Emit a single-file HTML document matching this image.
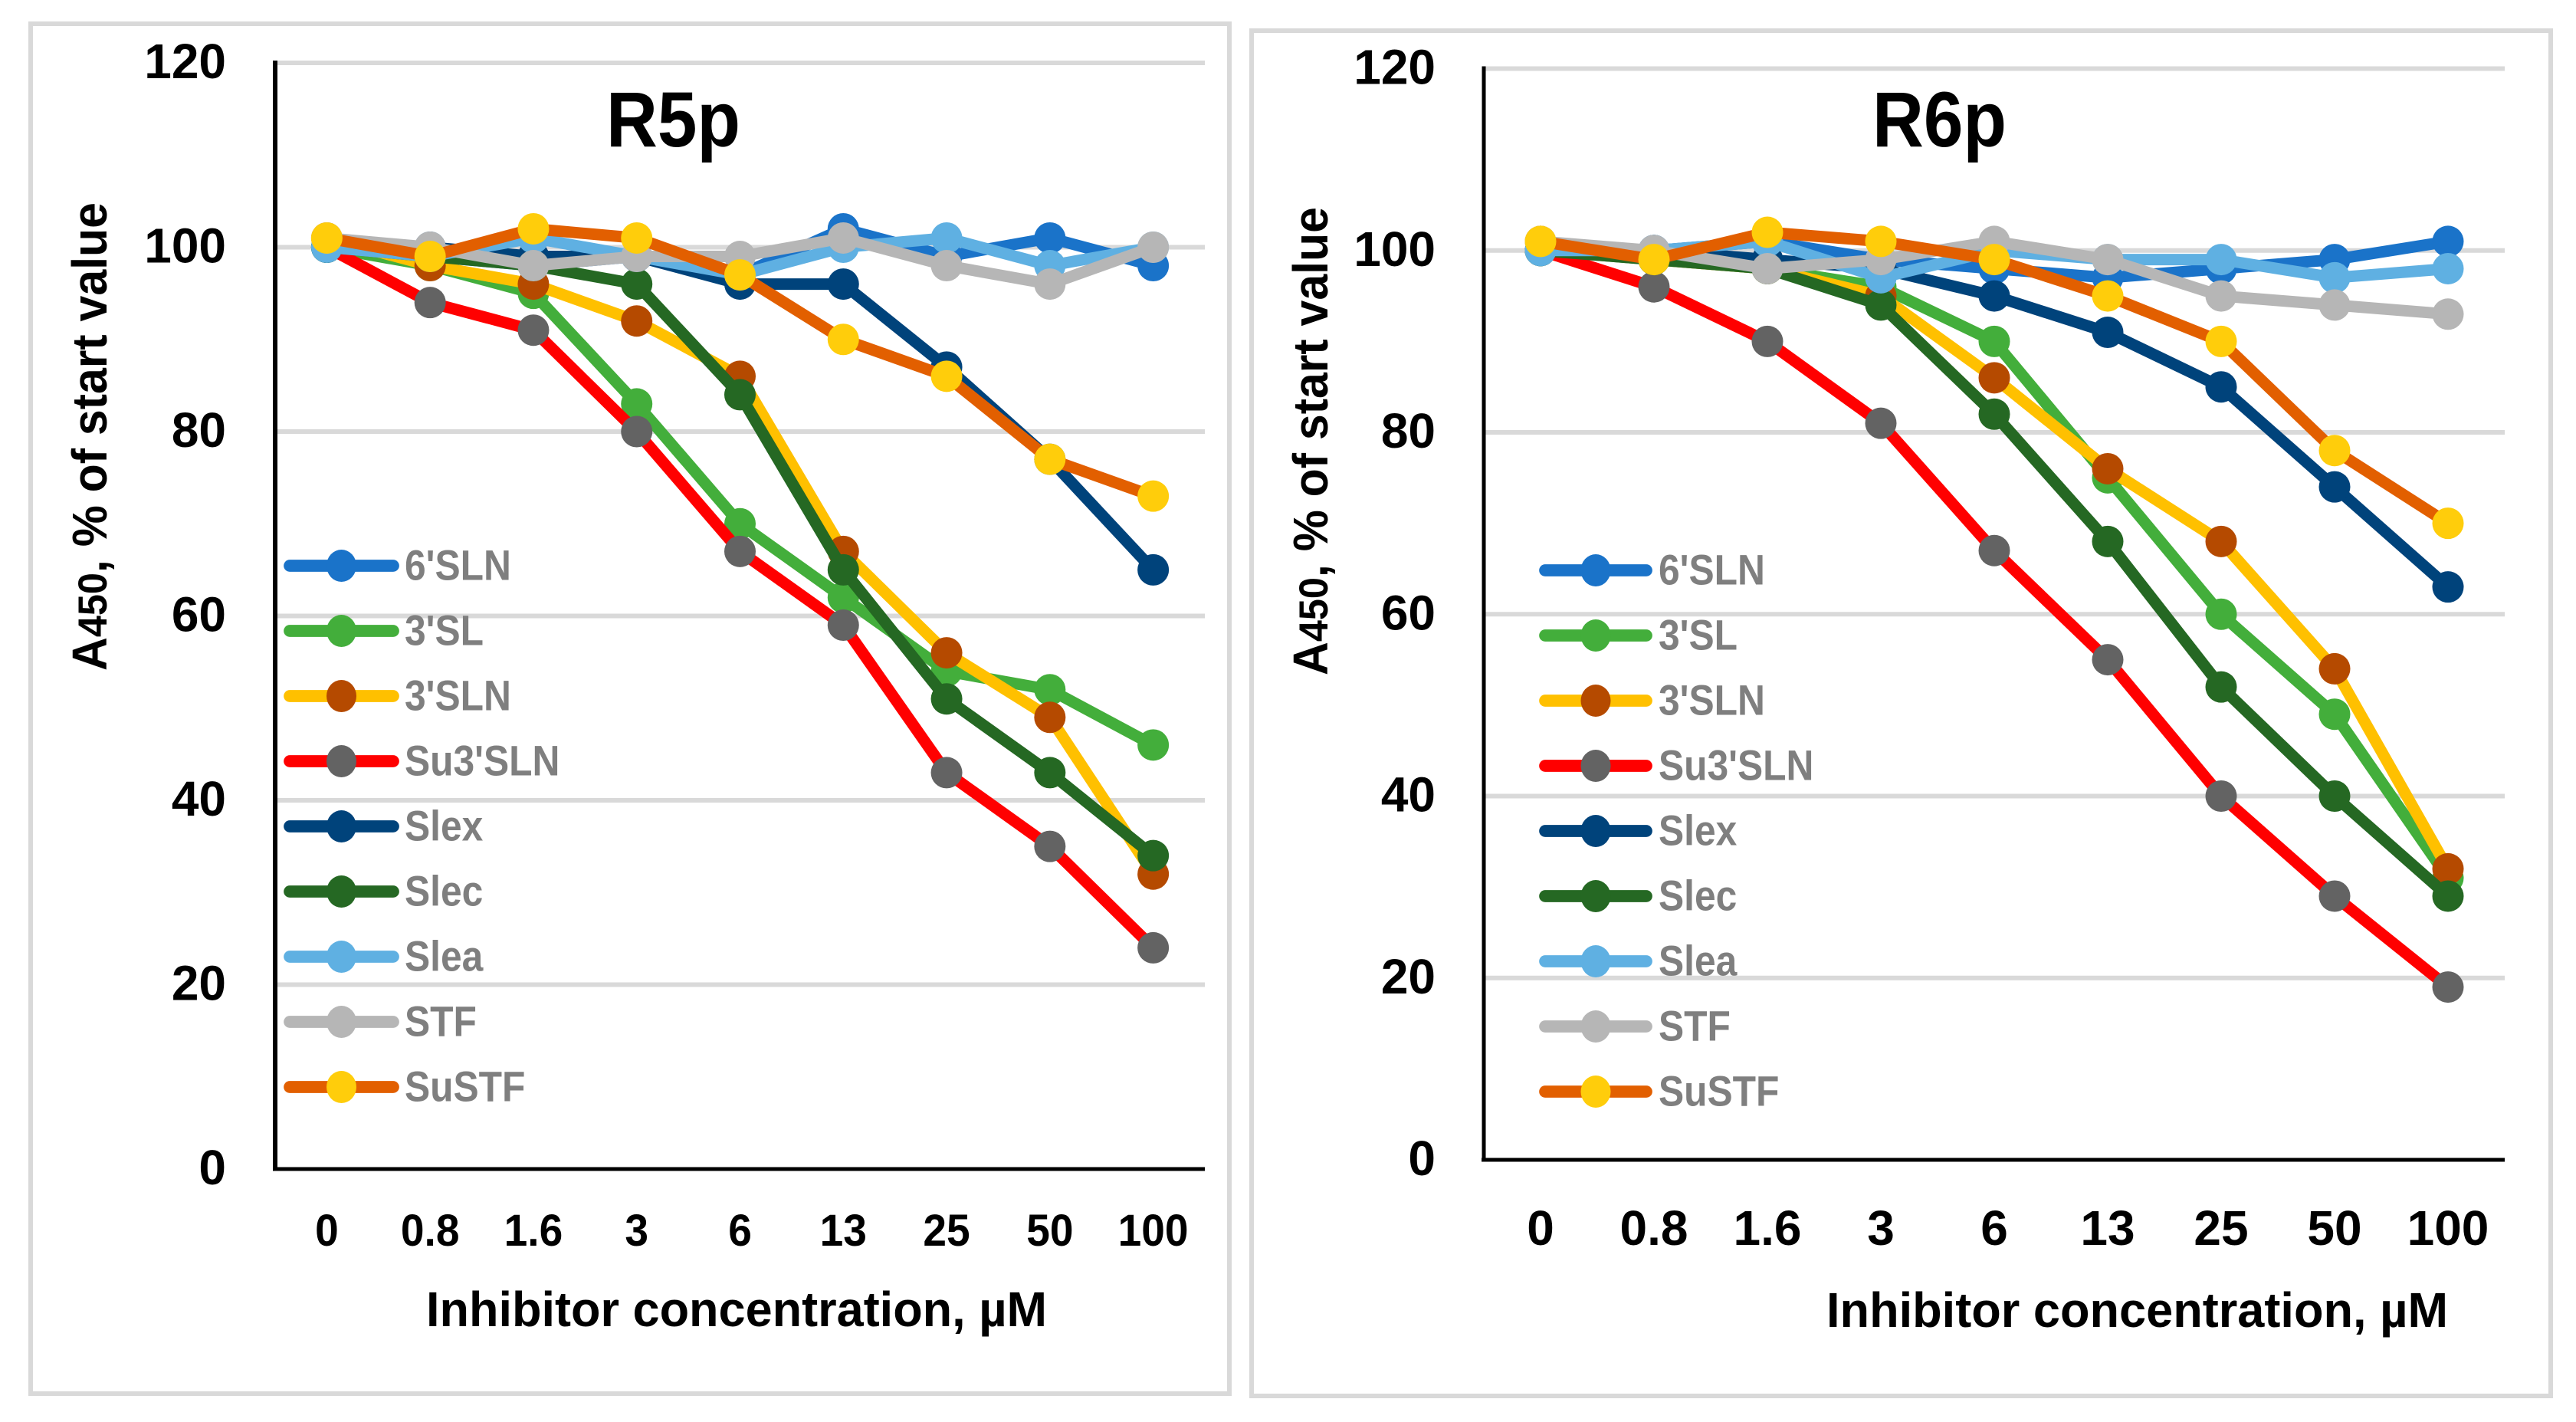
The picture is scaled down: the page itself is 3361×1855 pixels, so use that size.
<!DOCTYPE html>
<html lang="en">
<head>
<meta charset="utf-8">
<title>R5p and R6p inhibition charts</title>
<style>
html,body{margin:0;padding:0;background:#fff;}
svg{display:block;}
text{font-family:"Liberation Sans",Arial,sans-serif;font-weight:bold;}
</style>
</head>
<body>
<svg id="figure" xmlns="http://www.w3.org/2000/svg" width="3361" height="1855" viewBox="0 0 3361 1855"></svg>
<script>
const categories = ["0","0.8","1.6","3","6","13","25","50","100"];
const yTickValues = [0,20,40,60,80,100,120];
const seriesNames = ["6'SLN","3'SL","3'SLN","Su3'SLN","Slex","Slec","Slea","STF","SuSTF"];
const lineColors = ["#1a73c9","#43ae3b","#ffc000","#ff0000","#00437b","#256823","#5fb0e2","#b6b6b6","#e25f00"];
const markerColors = ["#1a73c9","#43ae3b","#b54a00","#636363","#00437b","#256823","#5fb0e2","#b6b6b6","#ffcd0b"];

const r5pSln6 = [100,99,98,99,97,102,99,101,98];
const r5pSl3 = [100,98,95,83,70,62,54,52,46];
const r5pSln3 = [101,98,96,92,86,67,56,49,32];
const r5pSu3Sln = [100,94,91,80,67,59,43,35,24];
const r5pSlex = [100,100,99,99,96,96,87,77,65];
const r5pSlec = [100,99,98,96,84,65,51,43,34];
const r5pSlea = [100,99,101,99,97,100,101,98,100];
const r5pStf = [101,100,98,99,99,101,98,96,100];
const r5pSuStf = [101,99,102,101,97,90,86,77,73];

const r6pSln6 = [100,100,101,99,98,97,98,99,101];
const r6pSl3 = [100,99,98,96,90,75,60,49,31];
const r6pSln3 = [101,99,98,95,86,76,68,54,32];
const r6pSu3Sln = [100,96,90,81,67,55,40,29,19];
const r6pSlex = [100,100,99,98,95,91,85,74,63];
const r6pSlec = [100,99,98,94,82,68,52,40,29];
const r6pSlea = [100,100,101,97,100,99,99,97,98];
const r6pStf = [101,100,98,99,101,99,95,94,93];
const r6pSuStf = [101,99,102,101,99,95,90,78,70];

const r5pSeries = [r5pSln6,r5pSl3,r5pSln3,r5pSu3Sln,r5pSlex,r5pSlec,r5pSlea,r5pStf,r5pSuStf];
const r6pSeries = [r6pSln6,r6pSl3,r6pSln3,r6pSu3Sln,r6pSlex,r6pSlec,r6pSlea,r6pStf,r6pSuStf];

const SVG_NS = "http://www.w3.org/2000/svg";
const figure = document.getElementById("figure");

function make(tag, parent, props, content) {
  const node = document.createElementNS(SVG_NS, tag);
  for (const key in props) node.setAttribute(key, props[key]);
  if (content !== undefined) node.textContent = content;
  parent.appendChild(node);
  return node;
}

function place(x, y, sx) {
  return "translate(" + x + " " + y + ") scale(" + sx + " 1)";
}

function drawPanel(cfg, series) {
  const slug = cfg.title.toLowerCase();
  const xScale = i => cfg.plotLeft + (i + 0.5) * (cfg.plotRight - cfg.plotLeft) / categories.length;
  const yScale = v => cfg.plotBottom - v * (cfg.plotBottom - cfg.plotTop) / 120;

  const panel = make("g", figure, {});
  
  

  const frame = make("rect", panel, {x:cfg.frameX, y:cfg.frameY, width:cfg.frameW, height:cfg.frameH, fill:"#fff", stroke:"#d9d9d9", "stroke-width":6});
  
  

  yTickValues.forEach(v => {
    if (v > 0) {
      const grid = make("line", panel, {x1:cfg.plotLeft, x2:cfg.plotRight, y1:yScale(v), y2:yScale(v), stroke:"#d9d9d9", "stroke-width":6});
      
      
    }
    const tick = make("text", panel, {x:cfg.yTickRight, y:yScale(v) + 20, "text-anchor":"end", "font-size":64, fill:"#000"}, String(v));
    
    
  });

  const yAxis = make("line", panel, {x1:cfg.plotLeft, x2:cfg.plotLeft, y1:yScale(120) - 3, y2:cfg.plotBottom + 2, stroke:"#000", "stroke-width":cfg.yAxisWidth});
  
  

  const xAxis = make("line", panel, {x1:cfg.plotLeft - 3, x2:cfg.plotRight, y1:cfg.plotBottom, y2:cfg.plotBottom, stroke:"#000", "stroke-width":5});
  
  

  categories.forEach((c, i) => {
    const label = make("text", panel, {transform:place(xScale(i), cfg.xTickBaseline, cfg.xTickScale), "text-anchor":"middle", "font-size":cfg.xTickSize, fill:"#000"}, c);
    
    
  });

  series.forEach((values, s) => {
    const group = make("g", panel, {});
    
    
    const pts = values.map((v, i) => xScale(i).toFixed(1) + "," + yScale(v).toFixed(1)).join(" ");
    const line = make("polyline", group, {points:pts, fill:"none", stroke:lineColors[s], "stroke-width":15, "stroke-linejoin":"round", "stroke-linecap":"round"});
    
    
    values.forEach((v, i) => {
      const dot = make("circle", group, {cx:xScale(i), cy:yScale(v), r:20.5, fill:markerColors[s]});
      
      
    });
  });

  const title = make("text", panel, {x:cfg.titleX, y:191, "font-size":102, fill:"#000", textLength:175, lengthAdjust:"spacingAndGlyphs"}, cfg.title);
  
  

  const xTitle = make("text", panel, {x:cfg.xTitleX, y:cfg.xTitleY, "font-size":64, fill:"#000", textLength:cfg.xTitleW, lengthAdjust:"spacingAndGlyphs"}, "Inhibitor concentration, µM");
  
  

  const yTitle = make("text", panel, {transform:"translate(" + cfg.yTitleX + " " + cfg.yTitleY + ") rotate(-90) scale(0.95 1)", "font-size":64, fill:"#000"});
  
  
  make("tspan", yTitle, {}, "A");
  make("tspan", yTitle, {"font-size":53}, "450");
  make("tspan", yTitle, {}, ", % of start value");

  const legend = make("g", panel, {});
  
  
  seriesNames.forEach((name, s) => {
    const ly = cfg.legendTop + s * 85;
    const entry = make("g", legend, {});
    
    
    const swatch = make("line", entry, {x1:cfg.legendX1 + 8, x2:cfg.legendX2 - 8, y1:ly, y2:ly, stroke:lineColors[s], "stroke-width":15.7, "stroke-linecap":"round"});
    
    
    const dot = make("ellipse", entry, {cx:(cfg.legendX1 + cfg.legendX2) / 2, cy:ly, rx:19.5, ry:21, fill:markerColors[s]});
    
    
    const label = make("text", entry, {transform:place(cfg.legendText, ly + 18.5, 0.888), "font-size":56, fill:"#7f7f7f"}, name);
    
    
  });
}

drawPanel({
  title:"R5p", frameX:40, frameY:31, frameW:1564, frameH:1787,
  plotLeft:359, plotRight:1572, plotTop:82, plotBottom:1525, yAxisWidth:6,
  yTickRight:295, xTickBaseline:1625, xTickSize:58, xTickScale:0.95,
  titleX:791, xTitleX:556, xTitleY:1730, xTitleW:810,
  yTitleX:139, yTitleY:875,
  legendTop:738, legendX1:370, legendX2:521, legendText:528
}, r5pSeries);

drawPanel({
  title:"R6p", frameX:1633, frameY:40, frameW:1695, frameH:1781,
  plotLeft:1936, plotRight:3268, plotTop:89.5, plotBottom:1513, yAxisWidth:5,
  yTickRight:1873, xTickBaseline:1624, xTickSize:64, xTickScale:1,
  titleX:2443, xTitleX:2383, xTitleY:1731, xTitleW:811,
  yTitleX:1732, yTitleY:881,
  legendTop:744, legendX1:2008, legendX2:2156, legendText:2164
}, r6pSeries);
</script>
</body>
</html>
